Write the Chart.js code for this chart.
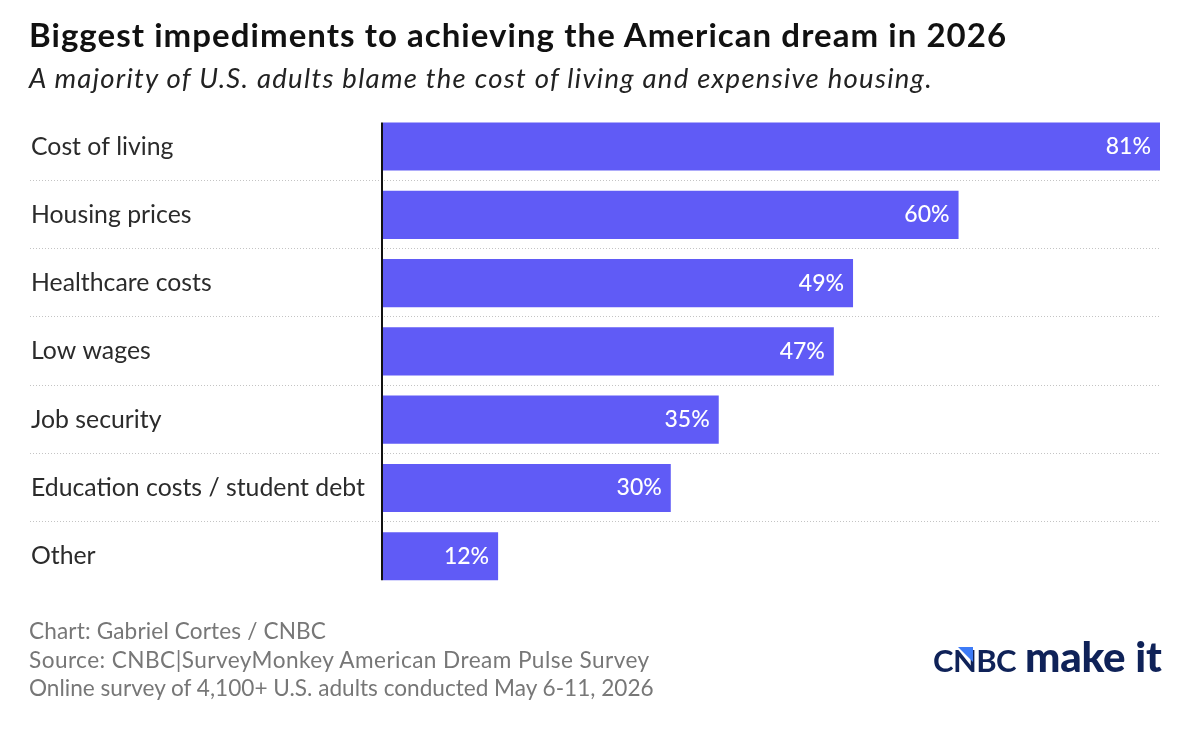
<!DOCTYPE html>
<html>
<head>
<meta charset="utf-8">
<script src="https://cdn.jsdelivr.net/npm/chart.js@4"></script>
<style>
  html, body { margin: 0; padding: 0; background: #fff; }
  #wrap { position: relative; width: 1200px; height: 730px; overflow: hidden; font-family: Lato, sans-serif; }
  #chart { position: absolute; left: 0; top: 0; }
  .txt { position: absolute; white-space: nowrap; }
  #title { left: 29px; top: 14px; font-size: 33px; font-weight: 700; letter-spacing: 1.05px; color: #111; }
  #sub { left: 29px; top: 61px; font-size: 27.5px; font-style: italic; letter-spacing: 1.26px; color: #222; }
  .foot { left: 29px; font-size: 22.6px; color: #777; }
  #logo { left: 933px; top: 631px; color: #0f2258; font-weight: 900; }
  #logo .a { font-size: 31px; letter-spacing: -0.6px; font-weight: 700; }
  #logo .b { font-size: 42px; letter-spacing: -0.2px; margin-left: 9px; }
  #tri { position: absolute; left: 958px; top: 647px; width: 15px; height: 15px; background: #3d7bf7; clip-path: polygon(0 0, 100% 0, 100% 100%); }
</style>
</head>
<body>
<div id="wrap">
  <canvas id="chart" width="1200" height="730"></canvas>
  <div class="txt" id="title">Biggest impediments to achieving the American dream in 2026</div>
  <div class="txt" id="sub">A majority of U.S. adults blame the cost of living and expensive housing.</div>
  <div class="txt foot" style="top:617px;letter-spacing:0.14px">Chart: Gabriel Cortes / CNBC</div>
  <div class="txt foot" style="top:646px;letter-spacing:0.44px">Source: CNBC|SurveyMonkey American Dream Pulse Survey</div>
  <div class="txt foot" style="top:674px">Online survey of 4,100+ U.S. adults conducted May 6-11, 2026</div>
  <div class="txt" id="logo"><span class="a">CNBC</span><span class="b">make it</span></div>
  <div id="tri"></div>
</div>
<script>
const categories = ['Cost of living', 'Housing prices', 'Healthcare costs', 'Low wages', 'Job security', 'Education costs / student debt', 'Other'];
const shares = [81, 60, 49, 47, 35, 30, 12];

// dotted row separators, axis line and the % labels inside the bars
const rowDecor = {
  id: 'rowDecor',
  afterDatasetsDraw(chart) {
    const { ctx, chartArea, scales } = chart;
    const bars = chart.getDatasetMeta(0).data;
    ctx.save();
    ctx.strokeStyle = '#c4c4c4';
    ctx.lineWidth = 1;
    ctx.setLineDash([1, 2]);
    for (let i = 0; i < bars.length - 1; i++) {
      const y = Math.floor((scales.y.getPixelForValue(i) + scales.y.getPixelForValue(i + 1)) / 2 - 0.4) + 0.5;
      ctx.beginPath();
      ctx.moveTo(30, y);
      ctx.lineTo(chartArea.right, y);
      ctx.stroke();
    }
    ctx.setLineDash([]);
    ctx.strokeStyle = '#111';
    ctx.lineWidth = 2;
    ctx.beginPath();
    ctx.moveTo(chartArea.left - 1, bars[0].y - bars[0].height / 2);
    ctx.lineTo(chartArea.left - 1, bars[bars.length - 1].y + bars[bars.length - 1].height / 2);
    ctx.stroke();
    ctx.fillStyle = '#fff';
    ctx.font = '500 23px Lato, sans-serif';
    ctx.textAlign = 'right';
    ctx.textBaseline = 'middle';
    bars.forEach((b, i) => ctx.fillText(shares[i] + '%', b.x - 9, b.y));
    ctx.restore();
  }
};

new Chart(document.getElementById('chart'), {
  type: 'bar',
  data: {
    labels: categories,
    datasets: [{ data: shares, backgroundColor: '#605bf6', borderWidth: 0, categoryPercentage: 1, barPercentage: 0.705 }]
  },
  options: {
    indexAxis: 'y',
    responsive: false,
    animation: false,
    devicePixelRatio: 1,
    layout: { padding: { left: 31, right: 40, top: 112.4, bottom: 139.6 } },
    plugins: { legend: { display: false }, tooltip: { enabled: false } },
    scales: {
      x: { display: false, min: 0, max: 81 },
      y: {
        border: { display: false },
        grid: { display: false },
        afterFit(axis) { axis.width = 352; },
        ticks: { crossAlign: 'far', color: '#2b2b2b', padding: 0, font: { family: 'Lato, sans-serif', size: 24.8 } }
      }
    }
  },
  plugins: [rowDecor]
});
</script>
</body>
</html>
